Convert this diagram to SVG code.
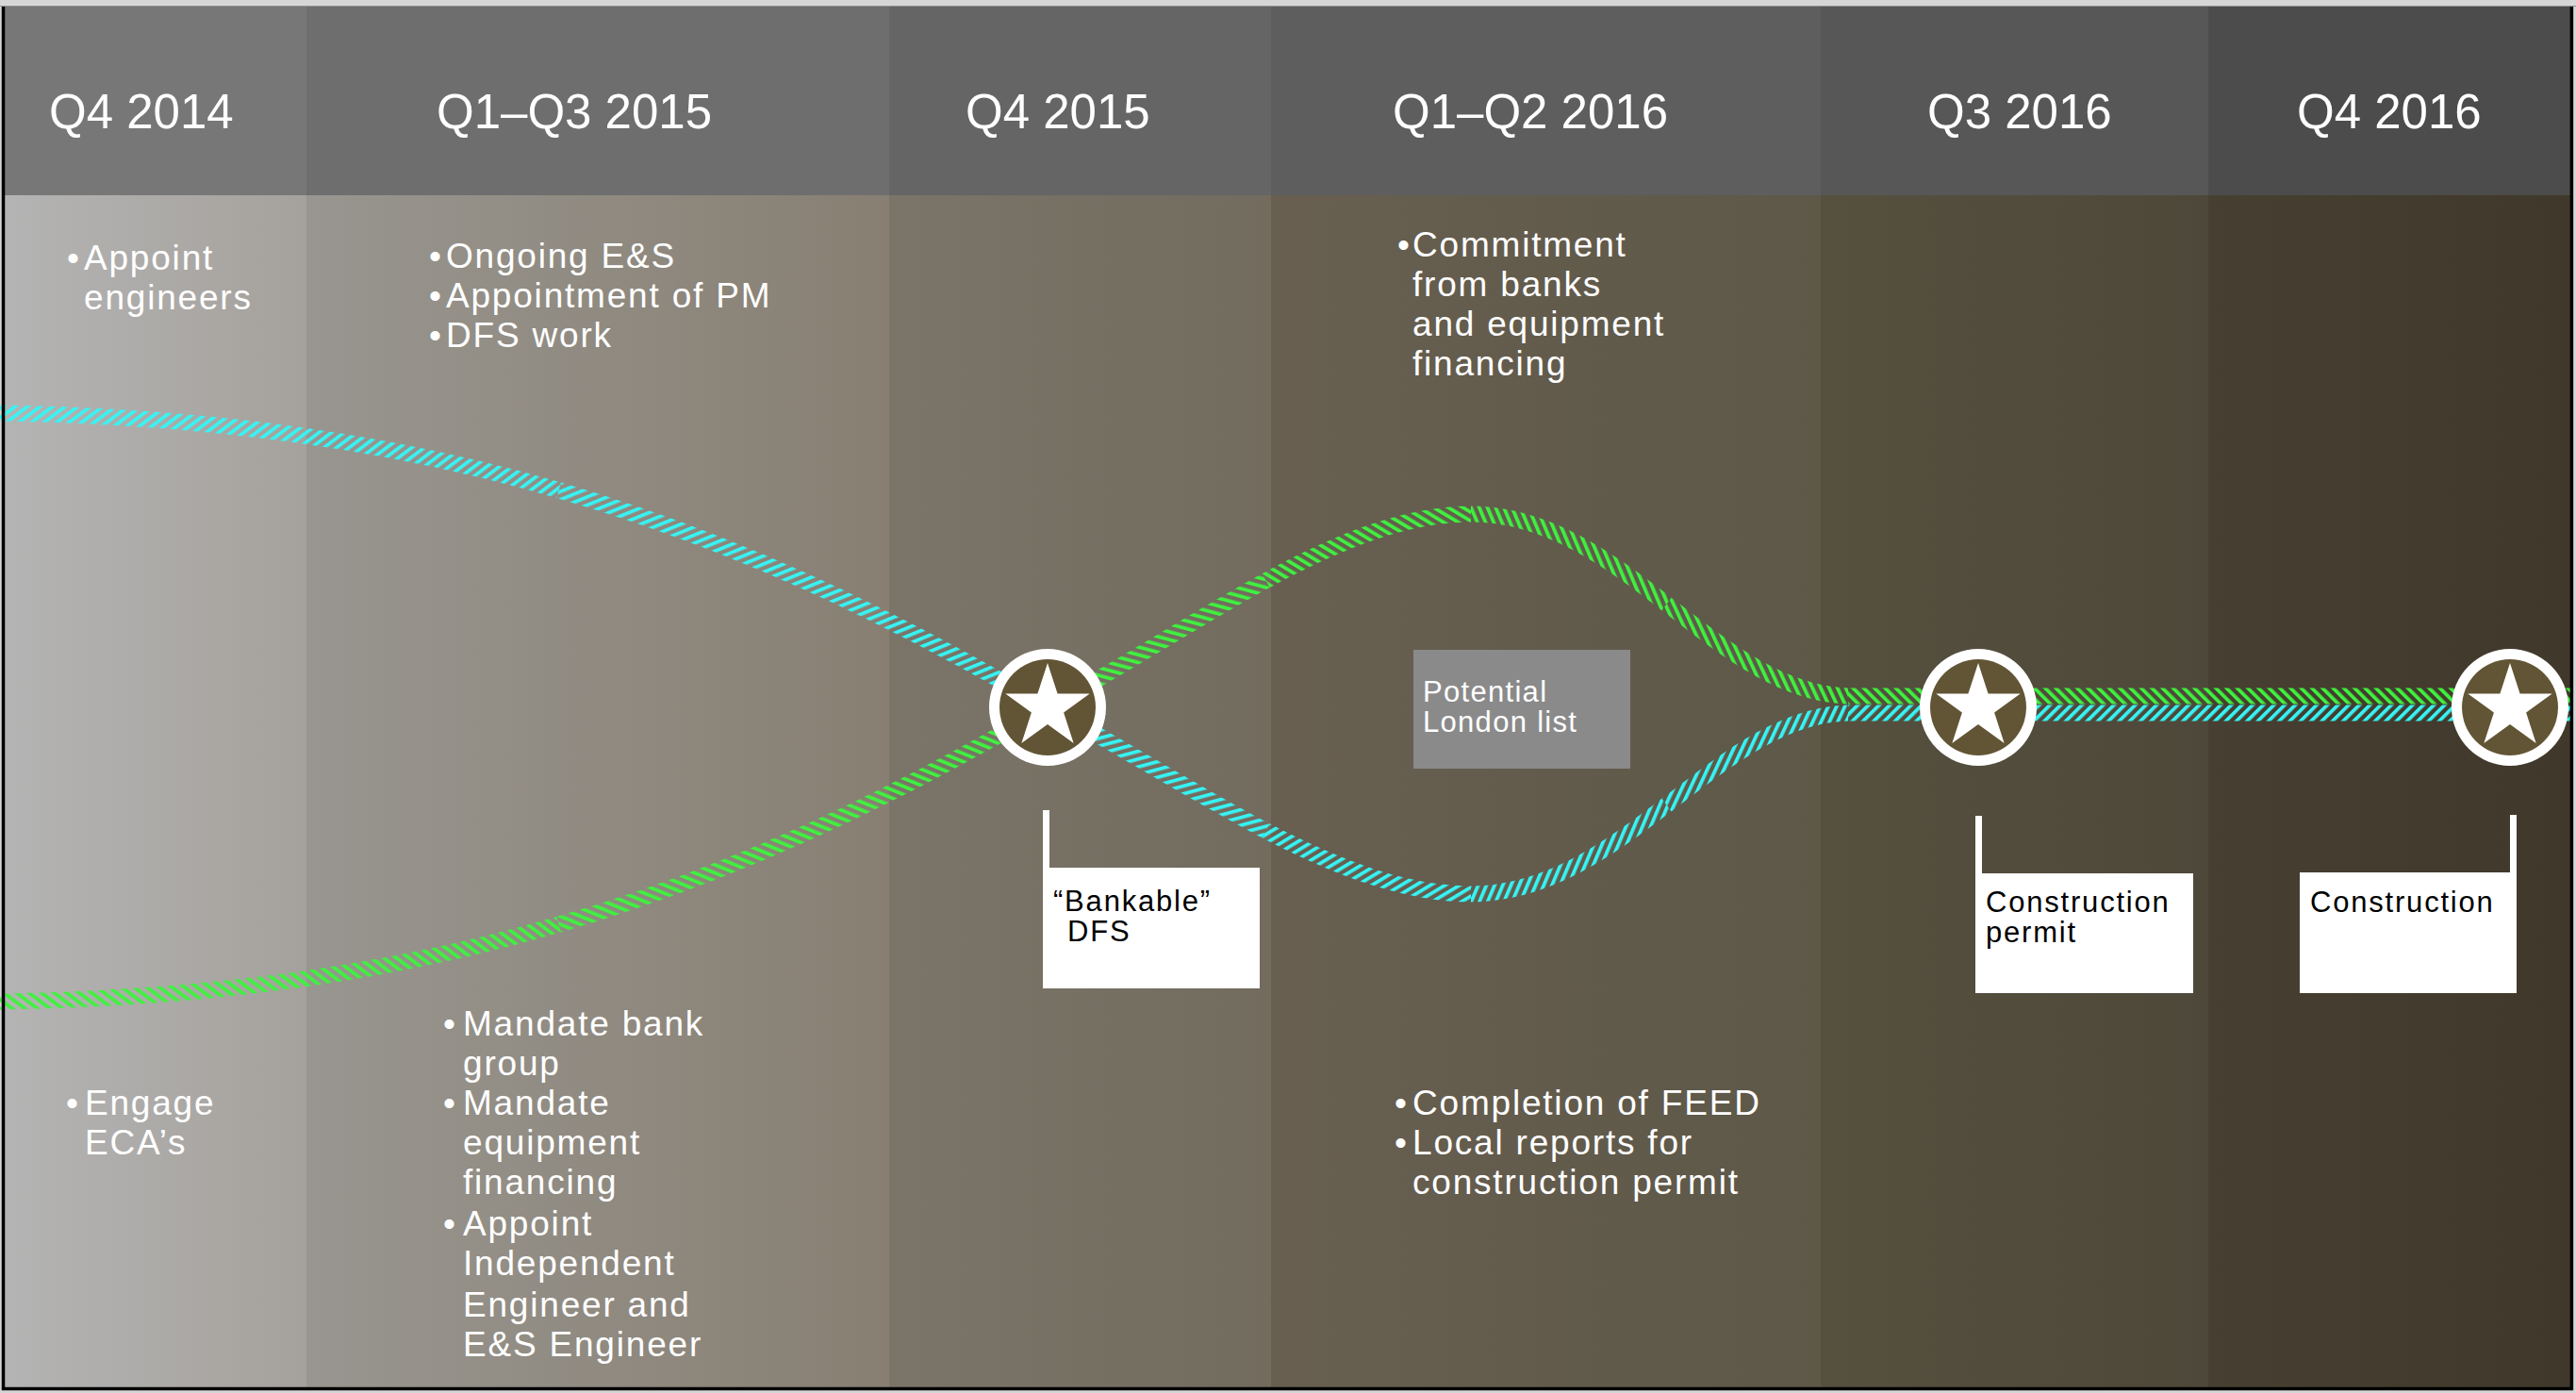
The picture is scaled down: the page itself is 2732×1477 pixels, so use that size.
<svg xmlns="http://www.w3.org/2000/svg" xmlns:xlink="http://www.w3.org/1999/xlink" width="2732" height="1477" viewBox="0 0 2732 1477">
<style>
.hdr{font-family:"Liberation Sans",Arial,sans-serif;font-size:51px;fill:#ffffff}
.body{font-family:"Liberation Sans",Arial,sans-serif;font-size:37px;fill:#ffffff;letter-spacing:1.8px}
.lbl{font-family:"Liberation Sans",Arial,sans-serif;font-size:31px;fill:#000000;letter-spacing:1.8px}
.lblw{font-family:"Liberation Sans",Arial,sans-serif;font-size:31px;fill:#ffffff;letter-spacing:1.3px}
.hatch{fill:none;stroke-width:17;stroke-linecap:butt}
.box{fill:#ffffff}
</style>
<defs>
<linearGradient id="b1"><stop offset="0" stop-color="#b4b4b4"/><stop offset="1" stop-color="#a5a19c"/></linearGradient>
<linearGradient id="b2"><stop offset="0" stop-color="#989690"/><stop offset="1" stop-color="#887f72"/></linearGradient>
<linearGradient id="b3"><stop offset="0" stop-color="#7b7569"/><stop offset="1" stop-color="#726b5e"/></linearGradient>
<linearGradient id="b4"><stop offset="0" stop-color="#685f51"/><stop offset="1" stop-color="#5d5848"/></linearGradient>
<linearGradient id="b5"><stop offset="0" stop-color="#56503f"/><stop offset="1" stop-color="#4e483a"/></linearGradient>
<linearGradient id="b6"><stop offset="0" stop-color="#473f31"/><stop offset="1" stop-color="#40382a"/></linearGradient>
<pattern id="c53" patternUnits="userSpaceOnUse" width="8" height="10" patternTransform="rotate(53)"><rect width="3.7" height="10" fill="#35f5f5"/></pattern>
<pattern id="c68" patternUnits="userSpaceOnUse" width="8" height="10" patternTransform="rotate(68)"><rect width="3.7" height="10" fill="#35f5f5"/></pattern>
<pattern id="c75" patternUnits="userSpaceOnUse" width="8" height="10" patternTransform="rotate(75)"><rect width="3.7" height="10" fill="#35f5f5"/></pattern>
<pattern id="c59" patternUnits="userSpaceOnUse" width="8" height="10" patternTransform="rotate(59)"><rect width="3.7" height="10" fill="#35f5f5"/></pattern>
<pattern id="c23" patternUnits="userSpaceOnUse" width="8" height="10" patternTransform="rotate(23)"><rect width="3.7" height="10" fill="#35f5f5"/></pattern>
<pattern id="c25" patternUnits="userSpaceOnUse" width="8" height="10" patternTransform="rotate(25)"><rect width="3.7" height="10" fill="#35f5f5"/></pattern>
<pattern id="c45" patternUnits="userSpaceOnUse" width="8" height="10" patternTransform="rotate(45)"><rect width="3.7" height="10" fill="#35f5f5"/></pattern>
<pattern id="g53" patternUnits="userSpaceOnUse" width="8" height="10" patternTransform="rotate(-53)"><rect width="3.7" height="10" fill="#3ef23e"/></pattern>
<pattern id="g68" patternUnits="userSpaceOnUse" width="8" height="10" patternTransform="rotate(-68)"><rect width="3.7" height="10" fill="#3ef23e"/></pattern>
<pattern id="g75" patternUnits="userSpaceOnUse" width="8" height="10" patternTransform="rotate(-75)"><rect width="3.7" height="10" fill="#3ef23e"/></pattern>
<pattern id="g59" patternUnits="userSpaceOnUse" width="8" height="10" patternTransform="rotate(-59)"><rect width="3.7" height="10" fill="#3ef23e"/></pattern>
<pattern id="g23" patternUnits="userSpaceOnUse" width="8" height="10" patternTransform="rotate(-23)"><rect width="3.7" height="10" fill="#3ef23e"/></pattern>
<pattern id="g25" patternUnits="userSpaceOnUse" width="8" height="10" patternTransform="rotate(-25)"><rect width="3.7" height="10" fill="#3ef23e"/></pattern>
<pattern id="g45" patternUnits="userSpaceOnUse" width="8" height="10" patternTransform="rotate(-45)"><rect width="3.7" height="10" fill="#3ef23e"/></pattern>
<g id="star">
<circle r="62" fill="#ffffff"/>
<circle r="51" fill="#625535"/>
<polygon fill="#ffffff" points="0,-47 10.58,-14.56 44.7,-14.52 17.12,5.56 27.63,38.02 0,18 -27.63,38.02 -17.12,5.56 -44.7,-14.52 -10.58,-14.56"/>
</g>
</defs>

<rect x="0" y="0" width="2732" height="1477" fill="#d6d6d6"/>

<g id="background">
<rect x="2" y="207" width="323" height="1266" fill="url(#b1)"/>
<rect x="325" y="207" width="618" height="1266" fill="url(#b2)"/>
<rect x="943" y="207" width="405" height="1266" fill="url(#b3)"/>
<rect x="1348" y="207" width="583" height="1266" fill="url(#b4)"/>
<rect x="1931" y="207" width="411" height="1266" fill="url(#b5)"/>
<rect x="2342" y="207" width="386" height="1266" fill="url(#b6)"/>
<rect x="2" y="7" width="323" height="200" fill="#777777"/>
<rect x="325" y="7" width="618" height="200" fill="#6e6e6e"/>
<rect x="943" y="7" width="405" height="200" fill="#656565"/>
<rect x="1348" y="7" width="583" height="200" fill="#5e5e5e"/>
<rect x="1931" y="7" width="411" height="200" fill="#575757"/>
<rect x="2342" y="7" width="386" height="200" fill="#4c4c4c"/>
<line x1="0" y1="6.5" x2="2732" y2="6.5" stroke="#8f8f8f" stroke-width="1"/>
</g>

<g id="headers">
<text class="hdr" x="52" y="136">Q4 2014</text>
<text class="hdr" x="463" y="136">Q1–Q3 2015</text>
<text class="hdr" x="1024" y="136">Q4 2015</text>
<text class="hdr" x="1477" y="136">Q1–Q2 2016</text>
<text class="hdr" x="2044" y="136">Q3 2016</text>
<text class="hdr" x="2436" y="136">Q4 2016</text>
</g>

<g id="notes-top">
<text class="body" y="286"><tspan x="71">•</tspan><tspan x="89">Appoint</tspan><tspan x="89" y="328">engineers</tspan></text>
<text class="body"><tspan x="455" y="284">•</tspan><tspan x="473" y="284">Ongoing E&amp;S</tspan><tspan x="455" y="326">•</tspan><tspan x="473" y="326">Appointment of PM</tspan><tspan x="455" y="368">•</tspan><tspan x="473" y="368">DFS work</tspan></text>
<text class="body"><tspan x="1482" y="272">•</tspan><tspan x="1498" y="272">Commitment</tspan><tspan x="1498" y="314">from banks</tspan><tspan x="1498" y="356">and equipment</tspan><tspan x="1498" y="398">financing</tspan></text>
</g>

<g id="notes-bottom">
<text class="body"><tspan x="70" y="1182">•</tspan><tspan x="90" y="1182">Engage</tspan><tspan x="90" y="1224">ECA’s</tspan></text>
<text class="body"><tspan x="470" y="1098">•</tspan><tspan x="491" y="1098">Mandate bank</tspan><tspan x="491" y="1140">group</tspan><tspan x="470" y="1182">•</tspan><tspan x="491" y="1182">Mandate</tspan><tspan x="491" y="1224">equipment</tspan><tspan x="491" y="1266">financing</tspan><tspan x="470" y="1310">•</tspan><tspan x="491" y="1310">Appoint</tspan><tspan x="491" y="1352">Independent</tspan><tspan x="491" y="1396">Engineer and</tspan><tspan x="491" y="1438">E&amp;S Engineer</tspan></text>
<text class="body"><tspan x="1479" y="1182">•</tspan><tspan x="1498" y="1182">Completion of FEED</tspan><tspan x="1479" y="1224">•</tspan><tspan x="1498" y="1224">Local reports for</tspan><tspan x="1498" y="1266">construction permit</tspan></text>
</g>

<g id="connectors">
<path class="hatch" stroke="url(#c53)" d="M0,438 C225,441.5 415,468.25 592.6,519.75"/>
<path class="hatch" stroke="url(#c68)" d="M592.6,519.75 C770.25,571.25 935.5,647.5 1111,750"/>
<path class="hatch" stroke="url(#c75)" d="M1111,750 C1190.5,792.5 1267.75,842 1342.6,880.9"/>
<path class="hatch" stroke="url(#c59)" d="M1342.6,880.9 C1417.5,919.75 1490,948 1560,948"/>
<path class="hatch" stroke="url(#c23)" d="M1560,948 C1640,948 1705,901 1767.5,853.6"/>
<path class="hatch" stroke="url(#c25)" d="M1767.5,853.6 C1830,806.25 1890,757.5 1960,756"/>
<path class="hatch" stroke="url(#c45)" d="M1960,756 L2727,756"/>
<path class="hatch" stroke="url(#g53)" d="M0,1062 C225,1058.5 415,1031.75 592.6,980.25"/>
<path class="hatch" stroke="url(#g68)" d="M592.6,980.25 C770.25,928.75 935.5,852.5 1111,750"/>
<path class="hatch" stroke="url(#g75)" d="M1111,750 C1190.5,707.5 1267.75,656.25 1342.6,615.6"/>
<path class="hatch" stroke="url(#g59)" d="M1342.6,615.6 C1417.5,575 1490,545 1560,545"/>
<path class="hatch" stroke="url(#g23)" d="M1560,545 C1640,545 1705,592.5 1767.5,640.4"/>
<path class="hatch" stroke="url(#g25)" d="M1767.5,640.4 C1830,688.25 1890,736.5 1960,738"/>
<path class="hatch" stroke="url(#g45)" d="M1960,738 L2727,738"/>
</g>

<g id="milestone-dfs"><use xlink:href="#star" href="#star" x="1111" y="750"/></g>
<g id="milestone-permit"><use xlink:href="#star" href="#star" x="2098" y="750"/></g>
<g id="milestone-construction"><use xlink:href="#star" href="#star" x="2662" y="750"/></g>

<g id="note-london">
<rect x="1499" y="689" width="230" height="126" fill="#8a8a8a"/>
<text class="lblw"><tspan x="1509" y="744">Potential</tspan><tspan x="1509" y="776">London list</tspan></text>
</g>

<g id="label-dfs">
<rect class="box" x="1106" y="859" width="7" height="62"/>
<rect class="box" x="1106" y="920" width="230" height="128"/>
<text class="lbl"><tspan x="1117" y="966">“Bankable”</tspan><tspan x="1132" y="998">DFS</tspan></text>
</g>

<g id="label-permit">
<rect class="box" x="2095" y="865" width="7" height="62"/>
<rect class="box" x="2095" y="926" width="231" height="127"/>
<text class="lbl"><tspan x="2106" y="967">Construction</tspan><tspan x="2106" y="999">permit</tspan></text>
</g>

<g id="label-construction">
<rect class="box" x="2662" y="864" width="7" height="62"/>
<rect class="box" x="2439" y="925" width="230" height="128"/>
<text class="lbl" x="2450" y="967">Construction</text>
</g>

<path id="frame" d="M3.5,7 V1472.5 H2727.4 V7" fill="none" stroke="#000000" stroke-width="3.5"/>
</svg>
